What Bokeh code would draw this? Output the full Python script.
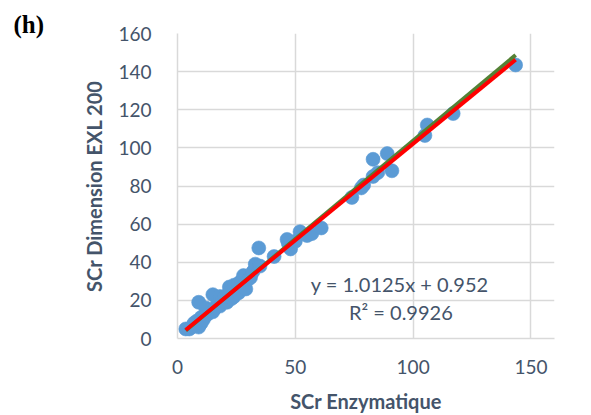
from bokeh.plotting import figure
from bokeh.models import Range1d, Label, FixedTicker
from bokeh.embed import file_html
from bokeh.resources import INLINE

# SCr Enzymatique (x) vs SCr Dimension EXL 200 (y)
x_enz = [3.5, 5, 6, 7, 8, 9, 9, 10, 10, 11, 12, 12, 13, 14, 15, 15, 16, 17, 18, 18,
         19, 20, 21, 21, 22, 22, 23, 24, 24, 25, 26, 26, 27, 28, 28, 29, 30, 31, 32, 33,
         34.5, 35, 41, 46.5, 47, 48, 50, 52, 55, 57, 61, 74, 78, 79, 83, 83, 85, 89, 91,
         105, 106, 117, 143.5]
y_dim = [5, 5, 6, 8, 9, 6, 19, 8, 11, 10, 12, 16, 13, 15, 14, 23, 16, 18, 17, 22,
         20, 22, 19, 22, 27, 24, 21, 22, 28, 25, 24, 29, 30, 27, 33, 26, 31, 32, 35, 39,
         47.5, 38, 43, 52, 50, 47, 51, 56, 54, 55, 58, 74, 79, 80.5, 94, 85, 87, 97, 88,
         106.5, 112, 118, 143.5]

fit_slope, fit_intercept = 1.0125, 0.952
green_slope, green_intercept = 1.032, 0.6
x_ticks = [0, 50, 100, 150]
y_ticks = [0, 20, 40, 60, 80, 100, 120, 140, 160]

TXT = "#44546A"
GRID = "#D9D9D9"
FONT = "Lato"

p = figure(width=591, height=415, output_backend="svg", toolbar_location=None,
           x_range=Range1d(0, 160), y_range=Range1d(0, 160),
           min_border_left=177, min_border_right=37, min_border_top=33, min_border_bottom=75)
p.outline_line_color = None
p.background_fill_color = "white"
p.border_fill_color = "white"

p.title.text = "(h)"
p.title.text_font = "Liberation Serif"
p.title.text_font_size = "25px"
p.title.text_font_style = "bold"
p.title.text_color = "black"
p.title.align = "left"
p.title.offset = -164
p.title.standoff = -8

for g in (p.xgrid, p.ygrid):
    g.grid_line_color = GRID
    g.grid_line_width = 1.5
p.xgrid.ticker = FixedTicker(ticks=x_ticks)
p.ygrid.ticker = FixedTicker(ticks=y_ticks)

p.xaxis.ticker = FixedTicker(ticks=x_ticks)
p.yaxis.ticker = FixedTicker(ticks=y_ticks)
for ax in (p.xaxis[0], p.yaxis[0]):
    ax.axis_line_color = GRID
    ax.axis_line_width = 1.5
    ax.major_tick_line_color = None
    ax.minor_tick_line_color = None
    ax.major_label_text_font = FONT
    ax.major_label_text_font_size = "19px"
    ax.major_label_text_color = TXT
    ax.axis_label_text_font = FONT
    ax.axis_label_text_font_size = "20px"
    ax.axis_label_text_font_style = "bold"
    ax.axis_label_text_color = TXT
p.xaxis.major_label_standoff = 15
p.yaxis.major_label_standoff = 20
p.xaxis.axis_label = "SCr Enzymatique"
p.yaxis.axis_label = "SCr Dimension EXL 200"
p.xaxis.axis_label_standoff = 12
p.yaxis.axis_label_standoff = 9

p.scatter(x_enz, y_dim, size=14, fill_color="#5B9BD5", line_color="#5B9BD5", line_alpha=0.6)

xs = [min(x_enz), max(x_enz)]
p.line(xs, [green_slope * v + green_intercept for v in xs], line_color="#548235", line_width=4)
p.line(xs, [fit_slope * v + fit_intercept for v in xs], line_color="#FF0000", line_width=4)

p.add_layout(Label(x=94.3, y=28.6, text="y = 1.0125x + 0.952", text_align="center",
                   text_baseline="middle", text_font=FONT, text_font_size="20px", text_color=TXT))
p.add_layout(Label(x=94.8, y=14, text="R² = 0.9926", text_align="center",
                   text_baseline="middle", text_font=FONT, text_font_size="20px", text_color=TXT))

open("out.html", "w").write(file_html(p, INLINE))
